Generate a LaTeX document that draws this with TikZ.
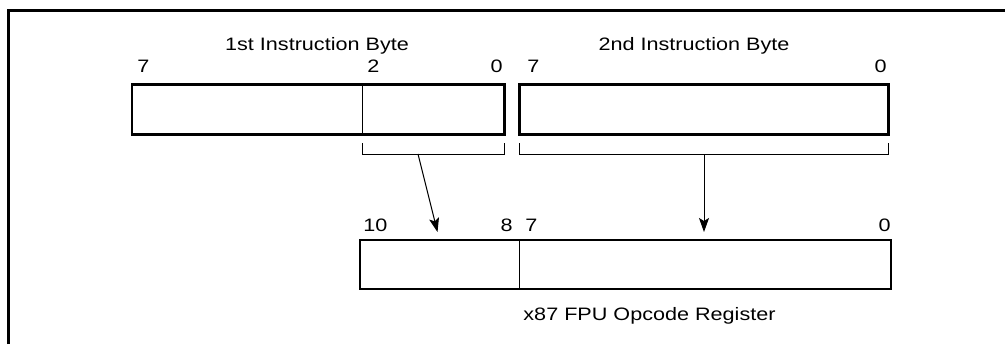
\documentclass[tikz,border=0pt]{standalone}
\usepackage{fontspec}
\setmainfont{Liberation Sans}[FakeStretch=1.2]
\usetikzlibrary{arrows.meta, positioning, calc}

\begin{document}
\begin{tikzpicture}[x=0.5pt, y=-0.5pt,
    field/.style={draw, line width=1.3pt, minimum height=25pt, inner sep=0pt, outer sep=0pt},
    bitno/.style={font=\fontsize{9}{11}\selectfont, inner sep=0pt},
    caption/.style={font=\fontsize{9}{11}\selectfont, inner sep=0pt, anchor=base},
    bracket/.style={line width=0.5pt},
    feed/.style={line width=0.5pt, -{Stealth[length=7pt, width=5pt, inset=1.5pt]}}
]
    \useasboundingbox (0,0) rectangle (1007,344);
    % frame, open to the right and below
    \draw[line width=1.2pt] (8.5,344) -- (8.5,10.5) -- (1005,10.5);

    % the two instruction bytes
    \node[field, minimum width=186.25pt] (byteone) at (318.25,109.7) {};
    \node[field, minimum width=184.5pt] (bytetwo) at (704,109.7) {};
    \draw[line width=0.5pt] (362,0 |- byteone.north) -- (362,0 |- byteone.south);

    \node[caption] (titleone) at (317,50) {1st Instruction Byte};
    \node[caption] (titletwo) at (694,50) {2nd Instruction Byte};

    \node[bitno, anchor=base west] (b1seven) at (137,72) {7};
    \node[bitno, anchor=base west] (b1two) at (367,72) {2};
    \node[bitno, anchor=base east] (b1zero) at (503,72) {0};
    \node[bitno, anchor=base west] (b2seven) at (527,72) {7};
    \node[bitno, anchor=base east] (b2zero) at (887,72) {0};

    % brackets under the selected bits
    \draw[bracket] (362,143) -- (362,154) -- (504.5,154) -- (504.5,143);
    \draw[bracket] (519.5,143) -- (519.5,154) -- (888.5,154) -- (888.5,143);

    % opcode register
    \node[field, minimum width=265.5pt, minimum height=24.5pt] (opreg) at (625.5,264.5) {};
    \draw[line width=0.5pt] (519.5,0 |- opreg.north) -- (519.5,0 |- opreg.south);

    \node[bitno, anchor=base west] (rten) at (363,231.5) {10};
    \node[bitno, anchor=base east] (reight) at (513,231.5) {8};
    \node[bitno, anchor=base west] (rseven) at (525,231.5) {7};
    \node[bitno, anchor=base east] (rzero) at (891,231.5) {0};

    \node[caption] (regname) at (649.5,320) {x87 FPU Opcode Register};

    \coordinate (selone) at (418,154);
    \coordinate (seltwo) at (704,154);
    \coordinate (hiin) at (437.5,232);
    \coordinate (loin) at (704,232);
    \draw[feed] (selone) -- (hiin);
    \draw[feed] (seltwo) -- (loin);
\end{tikzpicture}
\end{document}
